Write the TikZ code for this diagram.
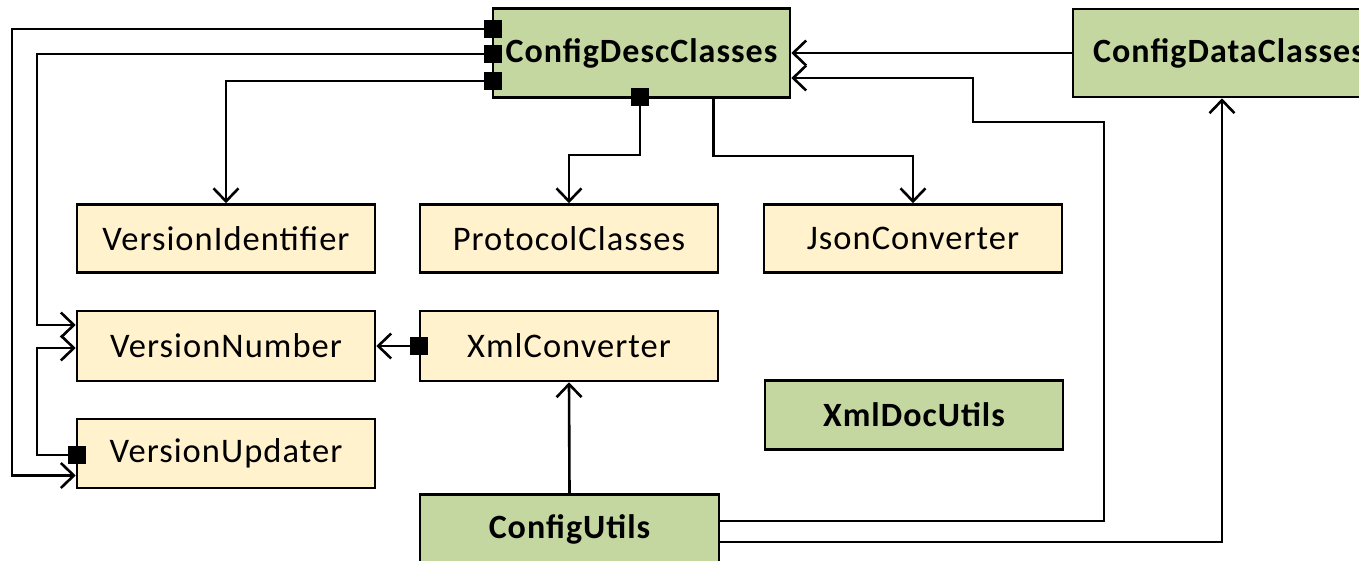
\documentclass[tikz,border=0pt]{standalone}
\usepackage{fontspec}
\setmainfont{Carlito}
\newfontfamily\boxfont[LetterSpace=3]{Carlito}
\usetikzlibrary{arrows.meta}
\definecolor{pkggreen}{RGB}{196,215,160}
\definecolor{pkgyellow}{RGB}{255,242,204}
\tikzset{
  pkg/.style={draw=black, line width=2.6pt, minimum width=298pt, inner sep=0pt,
    font=\boxfont\fontsize{34.5}{40}\selectfont},
  corepkg/.style={pkg, fill=pkggreen, font=\boxfont\bfseries\fontsize{34}{40}\selectfont},
  subpkg/.style={pkg, fill=pkgyellow},
  mk/.style={fill=black, draw=none, minimum size=18pt, inner sep=0pt},
  dep/.style={line width=2.6pt, -{Straight Barb[length=13pt,width=25pt,line width=2.6pt]}}
}
\begin{document}
\begin{tikzpicture}[x=1pt,y=-1pt]
\useasboundingbox (0,0) rectangle (1359,560);
\clip (0,0) rectangle (1359,560);
\fill[white] (0,0) rectangle (1359,560);

% packages
\node[corepkg, minimum width=297pt, minimum height=89pt] (desc) at (641.5,53) {ConfigDescClasses};
\node[corepkg, minimum width=312pt, minimum height=88pt] (data) at (1229,53) {ConfigDataClasses};
\node[subpkg, minimum height=68pt] (ident) at (226,238.5) {VersionIdentifier};
\node[subpkg, minimum height=68pt] (proto) at (569,238.5) {ProtocolClasses};
\node[subpkg, minimum height=68pt] (json) at (913,238.5) {JsonConverter};
\node[subpkg, minimum height=70pt] (vnum) at (226,346) {VersionNumber};
\node[subpkg, minimum height=70pt] (xml) at (569,346) {XmlConverter};
\node[subpkg, minimum height=69pt] (vupd) at (226,453.5) {VersionUpdater};
\node[corepkg, minimum height=69pt] (xdoc) at (914,415) {XmlDocUtils};
\node[corepkg, minimum width=299pt, minimum height=69pt] (utils) at (569.5,529) {ConfigUtils};

% ports
\node[mk] (p1) at (493,29) {};
\node[mk] (p2) at (493,54) {};
\node[mk] (p3) at (493,81) {};
\node[mk] (p4) at (640,97) {};
\node[mk] (p5) at (xml.west) {};
\node[mk] (p6) at (77,455) {};

% dependencies
\draw[dep] (p1) -- (12,29) |- ([yshift=-22pt]vupd.west);
\draw[dep] (p2) -- (37,54) |- ([yshift=21pt]vnum.west);
\draw[dep] (p3) -| (ident.north);
\draw[dep] (p4) -- (640,155) -| (proto.north);
\draw[dep] ([xshift=72pt]desc.south) -- (713.5,156) -| (json.north);
\draw[dep] (data.west) -- (desc.east);
\draw[dep] ([yshift=8pt]utils.east) -| (1104,122) -| (973,78) -- ([yshift=-25pt]desc.east);
\draw[dep] ([yshift=-13pt]utils.east) -| ([xshift=-7pt]data.south);
\draw[dep] (utils.north) -- (xml.south);
\draw[dep] (p5) -- (vnum.east);
\draw[dep] (p6) -- (37,455) |- ([yshift=-2pt]vnum.west);
\end{tikzpicture}
\end{document}
